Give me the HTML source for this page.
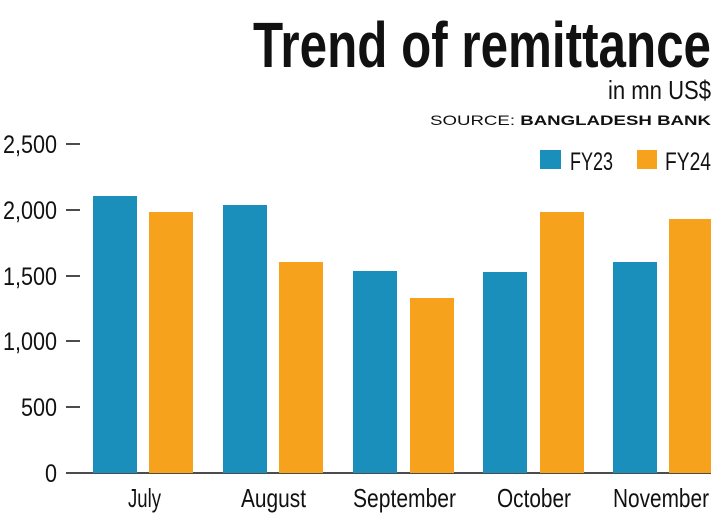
<!DOCTYPE html>
<html><head><meta charset="utf-8"><style>
html,body{margin:0;padding:0;background:#fff;}
svg{display:block;}
text{font-family:"Liberation Sans Narrow","Liberation Sans",sans-serif;fill:#111;}
</style></head><body>
<svg width="711" height="518" viewBox="0 0 711 518" xmlns="http://www.w3.org/2000/svg">
<text x="253" y="67" font-size="64" font-weight="bold" textLength="458" lengthAdjust="spacingAndGlyphs">Trend of remittance</text>
<text x="608" y="99" font-size="26" textLength="103" lengthAdjust="spacingAndGlyphs">in mn US$</text>
<text x="430" y="125" font-size="14" style="font-family:'Liberation Sans',sans-serif" textLength="281" lengthAdjust="spacingAndGlyphs">SOURCE: <tspan font-weight="bold">BANGLADESH BANK</tspan></text>
<rect x="540" y="150" width="21" height="19" fill="#1b8fbb"/>
<text x="570" y="170" font-size="25" textLength="43" lengthAdjust="spacingAndGlyphs">FY23</text>
<rect x="637" y="150" width="20" height="19" fill="#f6a21c"/>
<text x="665" y="170" font-size="25" textLength="46" lengthAdjust="spacingAndGlyphs">FY24</text>
<g stroke="#111" stroke-width="1.5">
<line x1="66" y1="144" x2="80" y2="144"/><line x1="66" y1="210" x2="80" y2="210"/>
<line x1="66" y1="276" x2="80" y2="276"/><line x1="66" y1="341" x2="80" y2="341"/>
<line x1="66" y1="407" x2="80" y2="407"/><line x1="66" y1="473" x2="711" y2="473"/>
</g>
<g font-size="25">
<text x="3" y="153" textLength="54" lengthAdjust="spacingAndGlyphs">2,500</text>
<text x="3" y="219" textLength="54" lengthAdjust="spacingAndGlyphs">2,000</text>
<text x="3" y="285" textLength="54" lengthAdjust="spacingAndGlyphs">1,500</text>
<text x="3" y="350" textLength="54" lengthAdjust="spacingAndGlyphs">1,000</text>
<text x="21" y="416" textLength="36" lengthAdjust="spacingAndGlyphs">500</text>
<text x="45" y="482" textLength="12" lengthAdjust="spacingAndGlyphs">0</text>
</g>
<g font-size="26">
<text x="128" y="507" textLength="33" lengthAdjust="spacingAndGlyphs">July</text>
<text x="241" y="507" textLength="65" lengthAdjust="spacingAndGlyphs">August</text>
<text x="353" y="507" textLength="103" lengthAdjust="spacingAndGlyphs">September</text>
<text x="497" y="507" textLength="74" lengthAdjust="spacingAndGlyphs">October</text>
<text x="613" y="507" textLength="96" lengthAdjust="spacingAndGlyphs">November</text>
</g>
<g fill="#1b8fbb">
<rect x="93" y="196" width="44" height="277"/><rect x="223" y="205" width="44" height="268"/>
<rect x="353" y="271" width="44" height="202"/><rect x="483" y="272" width="44" height="201"/>
<rect x="613" y="262" width="44" height="211"/>
</g>
<g fill="#f6a21c">
<rect x="149" y="212" width="44" height="261"/><rect x="279" y="262" width="44" height="211"/>
<rect x="410" y="298" width="44" height="175"/><rect x="540" y="212" width="44" height="261"/>
<rect x="669" y="219" width="42" height="254"/>
</g>
</svg>
</body></html>
